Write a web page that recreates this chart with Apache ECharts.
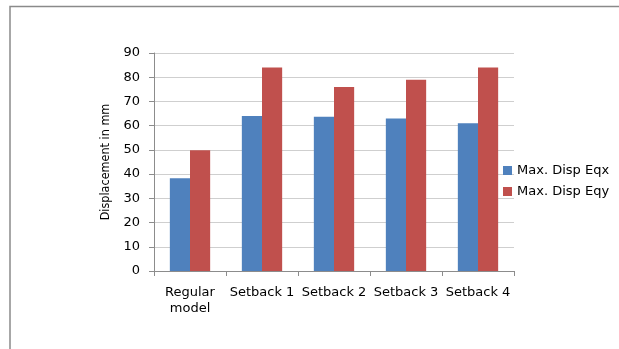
<!DOCTYPE html>
<html>
<head>
<meta charset="utf-8">
<script src="https://cdn.jsdelivr.net/npm/echarts@6/dist/echarts.min.js"></script>
<style>
  html, body { margin: 0; padding: 0; background: #fff; }
  #chart { width: 619px; height: 349px; }
</style>
</head>
<body>
<div id="chart"></div>
<script>
// Maximum displacement per model (mm)
const categories = ['Regular\nmodel', 'Setback 1', 'Setback 2', 'Setback 3', 'Setback 4'];
const dispEqx = [38.3, 64, 63.7, 63, 61];
const dispEqy = [49.8, 84, 76, 79, 84];
const seriesNames = ['Max. Disp Eqx', 'Max. Disp Eqy'];

const labelFont = 'DejaVu Sans';

const chart = echarts.init(document.getElementById('chart'));
chart.setOption({
  animation: false,
  backgroundColor: '#ffffff',
  graphic: [{
    type: 'polyline',
    shape: { points: [[10, 349], [10, 6.5], [619, 6.5]] },
    style: { stroke: '#8a8a8a', lineWidth: 1.5, fill: null }
  }],
  grid: { left: 154, top: 53, right: 105, bottom: 78 },
  legend: {
    orient: 'vertical',
    left: 498,
    top: 159,
    itemWidth: 9,
    itemHeight: 9,
    itemGap: 8,
    icon: 'rect',
    textStyle: { fontFamily: labelFont, fontSize: 13, color: '#000' },
    data: seriesNames
  },
  xAxis: {
    type: 'category',
    data: categories,
    axisLine: { lineStyle: { color: '#8c8c8c' } },
    axisTick: { show: true, alignWithLabel: false, length: 5, lineStyle: { color: '#8c8c8c' } },
    axisLabel: { fontFamily: labelFont, fontSize: 13, color: '#000', margin: 14, lineHeight: 16, interval: 0 }
  },
  yAxis: {
    type: 'value',
    min: 0,
    max: 90,
    interval: 10,
    name: 'Displacement in mm',
    nameLocation: 'middle',
    nameGap: 41,
    nameRotate: 90,
    nameTextStyle: { fontFamily: 'DejaVu Sans Condensed', fontSize: 12.5, color: '#000' },
    axisLine: { show: true, lineStyle: { color: '#8c8c8c' } },
    axisTick: { show: true, length: 5, lineStyle: { color: '#8c8c8c' } },
    axisLabel: { fontFamily: labelFont, fontSize: 13, color: '#000', margin: 14 },
    splitLine: { lineStyle: { color: '#cfcfcf', width: 1 } }
  },
  series: [
    {
      name: seriesNames[0],
      type: 'bar',
      data: dispEqx,
      barGap: '0%',
      barCategoryGap: '44%',
      itemStyle: { color: '#4f81bd' }
    },
    {
      name: seriesNames[1],
      type: 'bar',
      data: dispEqy,
      barGap: '0%',
      barCategoryGap: '44%',
      itemStyle: { color: '#c0504d' }
    }
  ]
});
</script>
</body>
</html>
